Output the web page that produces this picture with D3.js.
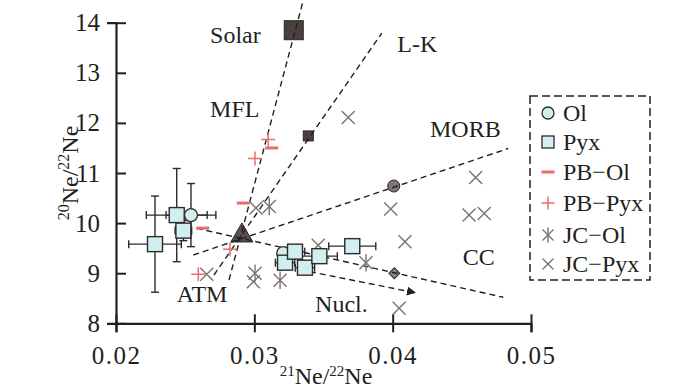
<!DOCTYPE html>
<html><head><meta charset="utf-8">
<script src="https://cdn.jsdelivr.net/npm/d3@7"></script>
<style>
body{margin:0;background:#fff}
svg{display:block}
text{font-family:"Liberation Serif","Times New Roman",serif;fill:#231f20}
</style>
</head><body>
<svg id="c" width="700" height="389"></svg>
<script>
// ---------- data ----------
const xTicks = [0.02, 0.03, 0.04, 0.05];
const yTicks = [8, 9, 10, 11, 12, 13, 14];
const olData = [
  {x:0.02542, y:10.16, ex:0.0018, ey:0.63},
  {x:0.03209, y:9.40,  ex:0,      ey:0}
];
const pyxData = [
  {x:0.02282, y:9.58,  ex:0.0019, ey:0.96},
  {x:0.02439, y:10.16, ex:0.0022, ey:0.93},
  {x:0.02487, y:9.85,  ex:0.0006, ey:0.2},
  {x:0.03222, y:9.21,  ex:0.0007, ey:0.1},
  {x:0.03294, y:9.43,  ex:0.0007, ey:0.1},
  {x:0.03366, y:9.11,  ex:0.0007, ey:0.1},
  {x:0.0347,  y:9.34,  ex:0.0013, ey:0.1},
  {x:0.03708, y:9.54,  ex:0.0017, ey:0.1}
];
const pbOl = [ {x:0.02627,y:9.90}, {x:0.0292,y:10.40}, {x:0.03126,y:11.50} ];
const pbPyx = [ {x:0.0310,y:11.67}, {x:0.03005,y:11.29}, {x:0.02824,y:9.48}, {x:0.02595,y:8.98} ];
const jcOl = [ {x:0.03108,y:10.33}, {x:0.03005,y:9.0}, {x:0.03186,y:8.86}, {x:0.03807,y:9.21} ];
const jcPyx = [
  {x:0.02656,y:8.98}, {x:0.03012,y:10.30}, {x:0.02993,y:8.83}, {x:0.03462,y:9.56},
  {x:0.03679,y:12.11}, {x:0.03986,y:10.28}, {x:0.04089,y:9.63}, {x:0.0460,y:10.91},
  {x:0.04552,y:10.16}, {x:0.04662,y:10.19}, {x:0.04047,y:8.30}
];
const endSolar = {x:0.03285, y:13.85};
const endLK    = {x:0.0339,  y:11.74};
const endMORB  = {x:0.04008, y:10.74};
const endCC    = {x:0.04012, y:9.0};
const endATM   = {x:0.0291,  y:9.75};
const lineMFL  = [[0.02817,8.865],[0.03354,14.45]];
const lineLK   = [[0.02708,8.964],[0.03921,13.79]];
const lineMORB = [[0.02559,9.363],[0.04836,11.49]];
const lineCC   = [[0.02583,9.896],[0.0480,8.519]];
const lineNucl = [[0.03402,9.03],[0.04162,8.611]];
const annotations = [
  {t:"Solar", x:0.0268,  y:13.589},
  {t:"MFL",   x:0.0268,  y:12.124},
  {t:"L-K",   x:0.04034, y:13.421},
  {t:"MORB",  x:0.0427,  y:11.719},
  {t:"CC",    x:0.04506, y:9.164},
  {t:"Nucl.", x:0.03439, y:8.232},
  {t:"ATM",   x:0.02439, y:8.431}
];
const legendLabels = ["Ol","Pyx","PB\u2212Ol","PB\u2212Pyx","JC\u2212Ol","JC\u2212Pyx"];

// ---------- drawing ----------
const svg = d3.select("#c");
const x = d3.scaleLinear().domain([0.02,0.05]).range([116,531]);
const y = d3.scaleLinear().domain([8,14]).range([323.3,22.7]);
const INK = "#231f20", CYAN = "#d3eef0", RED = "#e5706c", GRAY = "#7b726f";

svg.append("defs").append("marker").attr("id","arr")
  .attr("viewBox","0 0 10 10").attr("refX",9).attr("refY",5)
  .attr("markerWidth",9).attr("markerHeight",9).attr("orient","auto")
  .attr("markerUnits","userSpaceOnUse")
  .append("path").attr("d","M0,0 L10,5 L0,10 Z").attr("fill",INK);

// axes
const xMinor = d3.range(0.02,0.0501,0.002).filter(v=>Math.abs(v*100-Math.round(v*100))>1e-6);
const yMinor = d3.range(8,14.001,0.2).filter(v=>Math.abs(v-Math.round(v))>1e-6);

const gx = svg.append("g").attr("transform",`translate(0,${y(8)})`);
gx.call(d3.axisBottom(x).tickValues(xMinor).tickSize(8).tickFormat(""));
gx.call(d3.axisBottom(x).tickValues(xTicks).tickSize(9).tickFormat(d3.format(".2f")).tickPadding(14));
gx.selectAll(".tick line").attr("stroke",INK).attr("stroke-width",2);
gx.selectAll(".tick").filter(d=>xTicks.includes(d)).select("line").attr("y1",-9);
gx.selectAll("path.domain").attr("stroke",INK).attr("stroke-width",2.2);
gx.selectAll("text").attr("font-size",25).attr("fill",INK)
  .attr("font-family","Liberation Serif").attr("letter-spacing","1.5px");

const gy = svg.append("g").attr("transform",`translate(${x(0.02)},0)`);
gy.call(d3.axisLeft(y).tickValues(yMinor).tickSize(6).tickFormat(""));
gy.call(d3.axisLeft(y).tickValues(yTicks).tickSize(9).tickFormat(d3.format("d")).tickPadding(7));
gy.selectAll(".tick line").attr("stroke",INK).attr("stroke-width",2);
gy.selectAll(".tick").filter(d=>yTicks.includes(d)).select("line").attr("x2",10);
gy.selectAll("path.domain").attr("stroke",INK).attr("stroke-width",2.2);
gy.selectAll("text").attr("font-size",25).attr("fill",INK).attr("font-family","Liberation Serif");

// axis titles
const xt = svg.append("text").attr("x",326).attr("y",384).attr("text-anchor","middle").attr("font-size",24);
xt.append("tspan").attr("font-size",15).attr("dy",-8).text("21");
xt.append("tspan").attr("dy",8).text("Ne/");
xt.append("tspan").attr("font-size",15).attr("dy",-8).text("22");
xt.append("tspan").attr("dy",8).text("Ne");

const yt = svg.append("text").attr("transform","translate(78,173) rotate(-90)").attr("text-anchor","middle").attr("font-size",24);
yt.append("tspan").attr("font-size",16).attr("dy",-9).text("20");
yt.append("tspan").attr("dy",9).text("Ne/");
yt.append("tspan").attr("font-size",16).attr("dy",-9).text("22");
yt.append("tspan").attr("dy",9).text("Ne");

// end-member markers
const g = svg.append("g");
g.append("rect").attr("x",x(endSolar.x)-9.5).attr("y",y(endSolar.y)-9.5).attr("width",19).attr("height",19)
  .attr("fill","#4a403d").attr("stroke","#2a2422").attr("stroke-width",1);
g.append("rect").attr("x",x(endLK.x)-5).attr("y",y(endLK.y)-5).attr("width",10).attr("height",10)
  .attr("fill","#4a403d").attr("stroke","#2a2422").attr("stroke-width",1);
g.append("circle").attr("cx",x(endMORB.x)).attr("cy",y(endMORB.y)).attr("r",6)
  .attr("fill","#7f7775").attr("stroke","#2a2422").attr("stroke-width",1);
g.append("path").attr("d",d3.symbol(d3.symbolSquare, 60)())
  .attr("transform",`translate(${x(endCC.x)},${y(endCC.y)}) rotate(45)`)
  .attr("fill","#8b8380").attr("stroke","#2a2422").attr("stroke-width",1);
g.append("path").attr("d",d3.symbol(d3.symbolTriangle,210)())
  .attr("transform",`translate(${x(endATM.x)},${y(endATM.y)})`)
  .attr("fill","#5a504d").attr("stroke","#2a2422").attr("stroke-width",1);

// dashed lines
const ln = d3.line().x(d=>x(d[0])).y(d=>y(d[1]));
[lineMFL,lineLK,lineMORB,lineCC].forEach(L=>{
  svg.append("path").attr("d",ln(L)).attr("fill","none").attr("stroke",INK)
    .attr("stroke-width",1.4).attr("stroke-dasharray","6,4");
});
svg.append("path").attr("d",ln(lineNucl)).attr("fill","none").attr("stroke",INK)
  .attr("stroke-width",1.4).attr("stroke-dasharray","6,4").attr("marker-end","url(#arr)");

function drawX(sel, px, py, s, col, sw){
  sel.append("path").attr("d",`M${px-s},${py-s}L${px+s},${py+s}M${px-s},${py+s}L${px+s},${py-s}`)
    .attr("stroke",col).attr("stroke-width",sw).attr("fill","none");
}
function drawAst(sel, px, py, s, col, sw){
  drawX(sel,px,py,s,col,sw);
  sel.append("path").attr("d",`M${px},${py-s*1.35}L${px},${py+s*1.35}`)
    .attr("stroke",col).attr("stroke-width",sw);
}
function drawPlus(sel, px, py, s, col, sw){
  sel.append("path").attr("d",`M${px-s},${py}L${px+s},${py}M${px},${py-s}L${px},${py+s}`)
    .attr("stroke",col).attr("stroke-width",sw).attr("fill","none");
}
function drawMinus(sel, px, py, s, col, sw){
  sel.append("path").attr("d",`M${px-s},${py}L${px+s},${py}`)
    .attr("stroke",col).attr("stroke-width",sw);
}
const gp = svg.append("g");
jcPyx.forEach(d=>drawX(gp,x(d.x),y(d.y),6.5,GRAY,1.4));
jcOl.forEach(d=>drawAst(gp,x(d.x),y(d.y),6.5,GRAY,1.4));
pbPyx.forEach(d=>drawPlus(gp,x(d.x),y(d.y),7,RED,1.5));
pbOl.forEach(d=>drawMinus(gp,x(d.x),y(d.y),6.5,RED,3));

function errBars(data){
  data.forEach(d=>{
    if(d.ex>0){
      gp.append("line").attr("x1",x(d.x-d.ex)).attr("x2",x(d.x+d.ex)).attr("y1",y(d.y)).attr("y2",y(d.y))
        .attr("stroke","#2d2a2a").attr("stroke-width",1.4);
      [d.x-d.ex,d.x+d.ex].forEach(v=>gp.append("line").attr("x1",x(v)).attr("x2",x(v))
        .attr("y1",y(d.y)-4).attr("y2",y(d.y)+4).attr("stroke","#2d2a2a").attr("stroke-width",1.4));
    }
    if(d.ey>0){
      gp.append("line").attr("y1",y(d.y-d.ey)).attr("y2",y(d.y+d.ey)).attr("x1",x(d.x)).attr("x2",x(d.x))
        .attr("stroke","#2d2a2a").attr("stroke-width",1.4);
      [d.y-d.ey,d.y+d.ey].forEach(v=>gp.append("line").attr("y1",y(v)).attr("y2",y(v))
        .attr("x1",x(d.x)-4).attr("x2",x(d.x)+4).attr("stroke","#2d2a2a").attr("stroke-width",1.4));
    }
  });
}
errBars(olData); errBars(pyxData);
gp.append("circle").attr("cx",x(olData[1].x)).attr("cy",y(olData[1].y)).attr("r",6.5)
  .attr("fill",CYAN).attr("stroke","#2d2a2a").attr("stroke-width",1.3);
pyxData.forEach(d=>{
  gp.append("rect").attr("x",x(d.x)-7.5).attr("y",y(d.y)-7.5).attr("width",15).attr("height",15)
    .attr("fill",CYAN).attr("stroke","#2d2a2a").attr("stroke-width",1.4);
});
gp.append("circle").attr("cx",x(olData[0].x)).attr("cy",y(olData[0].y)).attr("r",6.5)
  .attr("fill",CYAN).attr("stroke","#2d2a2a").attr("stroke-width",1.3);

svg.selectAll("text.ann").data(annotations).enter().append("text").attr("class","ann")
  .attr("x",d=>x(d.x)).attr("y",d=>y(d.y)).attr("font-size",24).text(d=>d.t);

// legend
const lg = svg.append("g");
lg.append("rect").attr("x",530).attr("y",96).attr("width",120).attr("height",184)
  .attr("fill","#fff").attr("stroke",INK).attr("stroke-width",1.5).attr("stroke-dasharray","8,4");
const rows = [113,142,172,203,235,264];
const lx = 548;
lg.append("circle").attr("cx",lx).attr("cy",rows[0]).attr("r",6).attr("fill",CYAN).attr("stroke","#2d2a2a").attr("stroke-width",1.3);
lg.append("rect").attr("x",lx-6).attr("y",rows[1]-6).attr("width",12).attr("height",12).attr("fill",CYAN).attr("stroke","#2d2a2a").attr("stroke-width",1.3);
drawMinus(lg,lx,rows[2],6.5,RED,3);
drawPlus(lg,lx,rows[3],6.5,RED,1.5);
drawAst(lg,lx,rows[4],5.5,GRAY,1.4);
drawX(lg,lx,rows[5],5.5,GRAY,1.4);
legendLabels.forEach((t,i)=>{
  lg.append("text").attr("x",563).attr("y",rows[i]+8).attr("font-size",24).text(t);
});
</script>
</body></html>
